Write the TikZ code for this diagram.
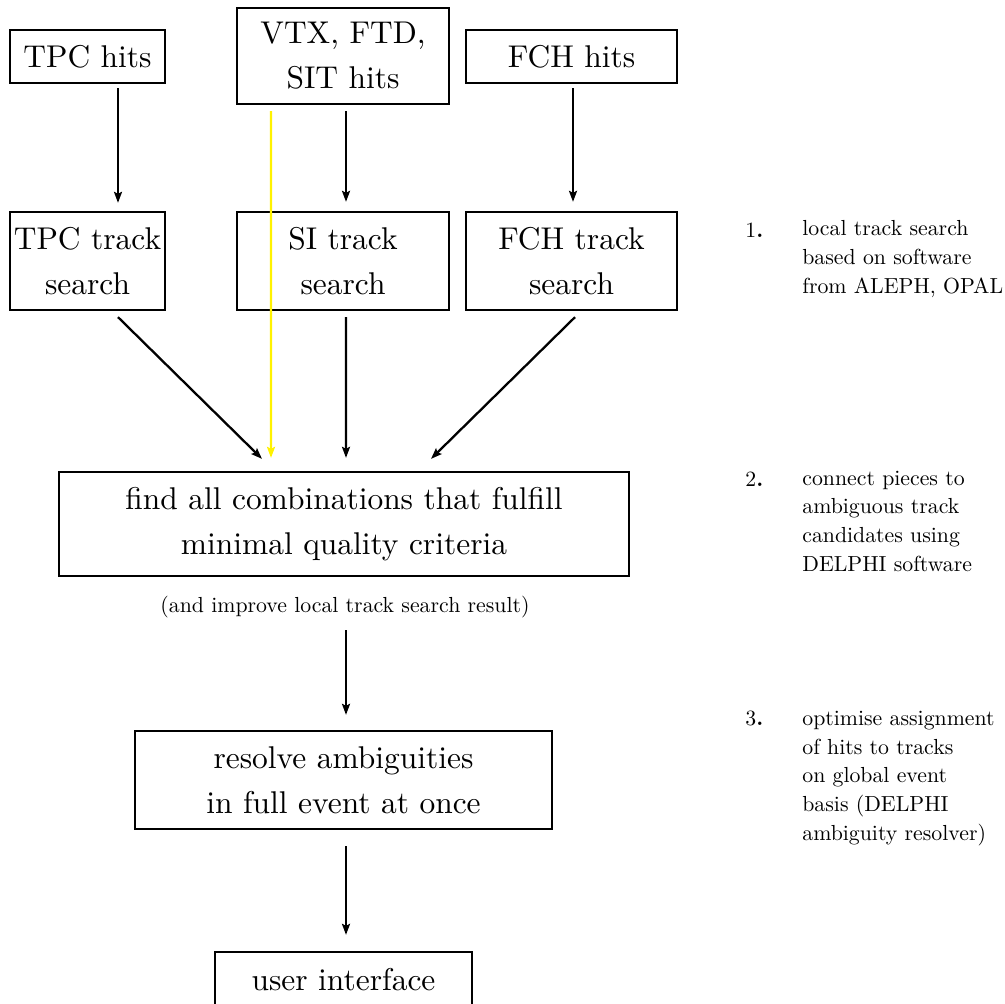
\documentclass[tikz,border=0pt]{standalone}
\usepackage{fontspec}
\setmainfont{lmroman10-regular.otf}[BoldFont=lmroman10-bold.otf]
\usepackage{tikz}
\usetikzlibrary{arrows.meta, positioning}

\begin{document}
\begin{tikzpicture}[
  box/.style={draw,rectangle,line width=1.3pt,inner sep=0pt,align=center,
              font=\fontsize{17.9}{25.6}\selectfont},
  note/.style={font=\fontsize{12.4}{16.3}\selectfont,align=left,inner sep=0pt},
  arr/.style={-{Stealth[length=0.22cm,width=0.16cm,inset=0.04cm]},line width=1.3pt}
]
\useasboundingbox (0,0) rectangle (20.1,-20.06);
% detector hits
\node[box,minimum width=3.1cm,minimum height=1.06cm]  (tpchits) at (1.75,-1.13) {TPC hits};
\node[box,minimum width=4.24cm,minimum height=1.92cm] (sihits)  at (6.86,-1.12) {VTX, FTD,\\SIT hits};
\node[box,minimum width=4.22cm,minimum height=1.06cm] (fchhits) at (11.43,-1.13) {FCH hits};
% local track search
\node[box,minimum width=3.1cm,minimum height=1.96cm]  (tpctrk) at (1.75,-5.22) {TPC track\\search};
\node[box,minimum width=4.24cm,minimum height=1.96cm] (sitrk)  at (6.86,-5.22) {SI track\\search};
\node[box,minimum width=4.22cm,minimum height=1.96cm] (fchtrk) at (11.43,-5.22) {FCH track\\search};
% combination and ambiguity step
\node[box,minimum width=11.4cm,minimum height=2.08cm] (comb) at (6.88,-10.48) {find all combinations that fulfill\\minimal quality criteria};
\node[note,align=center] (improve) at (6.9,-12.14) {(and improve local track search result)};
\node[box,minimum width=8.34cm,minimum height=1.96cm] (resolve) at (6.87,-15.6) {resolve ambiguities\\in full event at once};
\node[box,minimum width=5.14cm,minimum height=1.12cm] (user) at (6.87,-19.6) {user interface};
% explanations
\node[note,anchor=base west] (num1) at (14.9,-4.74) {1{\bfseries .}};
\node[note,anchor=base west] (txt1) at (16.04,-5.86) {local track search\\based on software\\from ALEPH, OPAL};
\node[note,anchor=base west] (num2) at (14.9,-9.72) {2{\bfseries .}};
\node[note,anchor=base west] (txt2) at (16.04,-11.42) {connect pieces to\\ambiguous track\\candidates using\\DELPHI software};
\node[note,anchor=base west] (num3) at (14.9,-14.5) {3{\bfseries .}};
\node[note,anchor=base west] (txt3) at (16.04,-16.8) {optimise assignment\\of hits to tracks\\on global event\\basis (DELPHI\\ambiguity resolver)};

\draw[arr] ([xshift=0.61cm,yshift=-0.08cm]tpchits.south)--([xshift=0.61cm,yshift=0.16cm]tpctrk.north);
\draw[arr] ([xshift=0.06cm,yshift=-0.12cm]sihits.south)--([xshift=0.06cm,yshift=0.18cm]sitrk.north);
\draw[arr] ([xshift=0.03cm,yshift=-0.08cm]fchhits.south)--([xshift=0.03cm,yshift=0.18cm]fchtrk.north);
\draw[arr,yellow] ([xshift=-1.44cm,yshift=-0.12cm]sihits.south)--([xshift=-1.46cm,yshift=0.26cm]comb.north);
\draw[arr] ([xshift=0.61cm,yshift=-0.12cm]tpctrk.south)--([xshift=-1.64cm,yshift=0.24cm]comb.north);
\draw[arr] ([xshift=0.06cm,yshift=-0.12cm]sitrk.south)--([xshift=0.04cm,yshift=0.26cm]comb.north);
\draw[arr] ([xshift=0.07cm,yshift=-0.12cm]fchtrk.south)--([xshift=1.74cm,yshift=0.24cm]comb.north);
\draw[arr] ([xshift=0.02cm,yshift=-0.24cm]improve.south)--([xshift=0.05cm,yshift=0.3cm]resolve.north);
\draw[arr] ([xshift=0.05cm,yshift=-0.32cm]resolve.south)--([xshift=0.05cm,yshift=0.32cm]user.north);
\end{tikzpicture}
\end{document}
